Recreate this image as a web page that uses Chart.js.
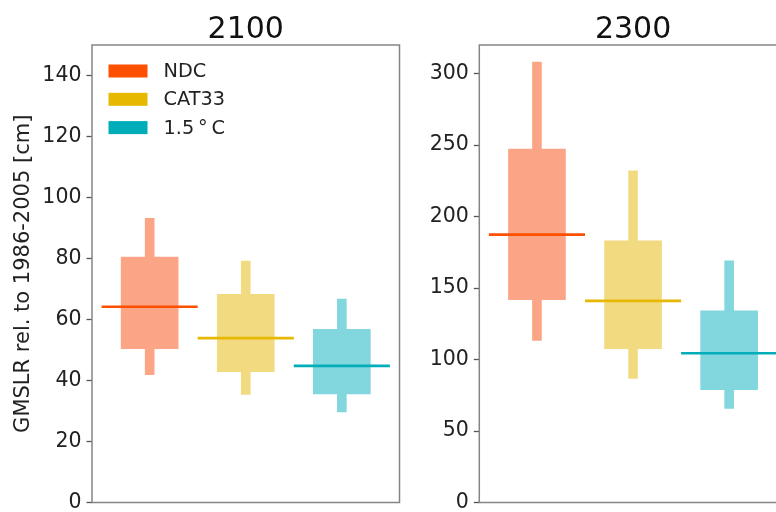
<!DOCTYPE html>
<html>
<head>
<meta charset="utf-8">
<script src="https://cdn.jsdelivr.net/npm/chart.js@4.4.1/dist/chart.umd.min.js"></script>
<style>
  html, body { margin: 0; padding: 0; background: #fff; overflow: hidden; }
  body { width: 776px; height: 512px; position: relative; }
  .panel { position: absolute; top: 0; height: 512px; }
</style>
</head>
<body>
<div class="panel" style="left:0;width:420px"><canvas id="c2100"></canvas></div>
<div class="panel" style="left:400px;width:400px"><canvas id="c2300"></canvas></div>
<script>
// scenarios and colours
const scenarios = ['NDC', 'CAT33', '1.5\u2009\u00b0\u2009C'];
const lineColors = ['#ff5000', '#e6b800', '#00adb9'];
const boxColors = ['#fba586', '#f2da80', '#82d6dd'];

// 2100 (cm rel. to 1986-2005)
const median2100 = [64.2, 53.9, 44.8];
const likelyLow2100 = [50.3, 42.8, 35.5];
const likelyHigh2100 = [80.6, 68.4, 56.9];
const veryLow2100 = [41.8, 35.3, 29.6];
const veryHigh2100 = [93.3, 79.3, 66.8];

// 2300
const median2300 = [187.4, 141.0, 104.4];
const likelyLow2300 = [141.7, 107.4, 78.7];
const likelyHigh2300 = [247.5, 183.2, 134.3];
const veryLow2300 = [113.2, 86.6, 65.6];
const veryHigh2300 = [308.2, 232.2, 169.2];

// axis ticks
const ticks2100 = { max: 150, step: 20 };
const ticks2300 = { max: 320, step: 50 };

const FONT = 'DejaVu Sans';

// draws the full frame round the plot
const framePlugin = {
  id: 'frame',
  afterDraw(chart) {
    const a = chart.chartArea, ctx = chart.ctx;
    ctx.save();
    ctx.strokeStyle = '#858585';
    ctx.lineWidth = 1.5;
    ctx.strokeRect(a.left, a.top, a.right - a.left, a.bottom - a.top);
    ctx.restore();
  }
};

// legend inside the 2100 panel
const legendPlugin = {
  id: 'boxLegend',
  afterDraw(chart) {
    if (!chart.options.plugins.boxLegend.show) return;
    const a = chart.chartArea, ctx = chart.ctx;
    ctx.save();
    ctx.font = '19.3px ' + FONT;
    ctx.textBaseline = 'middle';
    scenarios.forEach((name, i) => {
      const cy = a.top + 26 + i * 28.3;
      ctx.fillStyle = lineColors[i];
      ctx.fillRect(a.left + 16.5, cy - 6.5, 39, 13);
      ctx.fillStyle = '#222';
      ctx.fillText(name, a.left + 71.5, cy + 1);
    });
    ctx.restore();
  }
};

function makeChart(id, year, med, lo, hi, vlo, vhi, yt, yWidth, padRight, showLegend, yTitle) {
  const medianSets = scenarios.map((s, i) => ({
    type: 'line',
    label: s,
    data: [{ x: i - 0.5, y: med[i] }, { x: i + 0.5, y: med[i] }],
    borderColor: lineColors[i],
    borderWidth: 2.6,
    pointRadius: 0
  }));
  new Chart(document.getElementById(id), {
    type: 'bar',
    data: {
      datasets: [
        ...medianSets,
        {
          label: 'likely',
          data: scenarios.map((s, i) => ({ x: i, y: [lo[i], hi[i]] })),
          backgroundColor: boxColors,
          grouped: false,
          barPercentage: 0.6,
          categoryPercentage: 1
        },
        {
          label: 'very likely',
          data: scenarios.map((s, i) => ({ x: i, y: [vlo[i], vhi[i]] })),
          backgroundColor: boxColors,
          grouped: false,
          barPercentage: 0.1,
          categoryPercentage: 1
        }
      ]
    },
    options: {
      responsive: false,
      animation: false,
      devicePixelRatio: 1,
      layout: { padding: { left: 0, right: padRight, top: 0, bottom: 9.5 } },
      plugins: {
        legend: { display: false },
        tooltip: { enabled: false },
        boxLegend: { show: showLegend },
        title: {
          display: true,
          text: year,
          fullSize: false,
          color: '#111',
          font: { family: FONT, size: 30, weight: 'normal', lineHeight: 1 },
          padding: { top: 15, bottom: 0 }
        }
      },
      scales: {
        x: {
          type: 'linear',
          display: false,
          offset: false,
          min: -0.6,
          max: 2.6,
          afterBuildTicks: (scale) => { scale.ticks = scenarios.map((s, i) => ({ value: i })); }
        },
        y: {
          min: 0,
          max: yt.max,
          border: { display: false },
          grid: { drawOnChartArea: false, drawTicks: true, tickLength: 5.5, tickColor: '#555', tickWidth: 1.3 },
          ticks: { stepSize: yt.step, includeBounds: false, padding: 5, color: '#222', font: { family: FONT, size: 20.5 } },
          title: {
            display: !!yTitle,
            text: yTitle || '',
            color: '#222',
            font: { family: FONT, size: 21 },
            padding: { top: 11, bottom: 0 }
          },
          afterFit: (scale) => {
            scale.width = yWidth;
            scale.paddingTop = 0;
            scale.paddingBottom = 0;
          }
        }
      }
    },
    plugins: [framePlugin, legendPlugin]
  });
}

function setSize(id, w, h) {
  const c = document.getElementById(id);
  c.width = w; c.height = h;
  c.style.width = w + 'px'; c.style.height = h + 'px';
}
setSize('c2100', 420, 512);
setSize('c2300', 400, 512);

makeChart('c2100', '2100', median2100, likelyLow2100, likelyHigh2100, veryLow2100, veryHigh2100,
  ticks2100, 92, 20.5, true, 'GMSLR rel. to 1986-2005 [cm]');
makeChart('c2300', '2300', median2300, likelyLow2300, likelyHigh2300, veryLow2300, veryHigh2300,
  ticks2300, 79.3, 13.2, false, '');
</script>
</body>
</html>
